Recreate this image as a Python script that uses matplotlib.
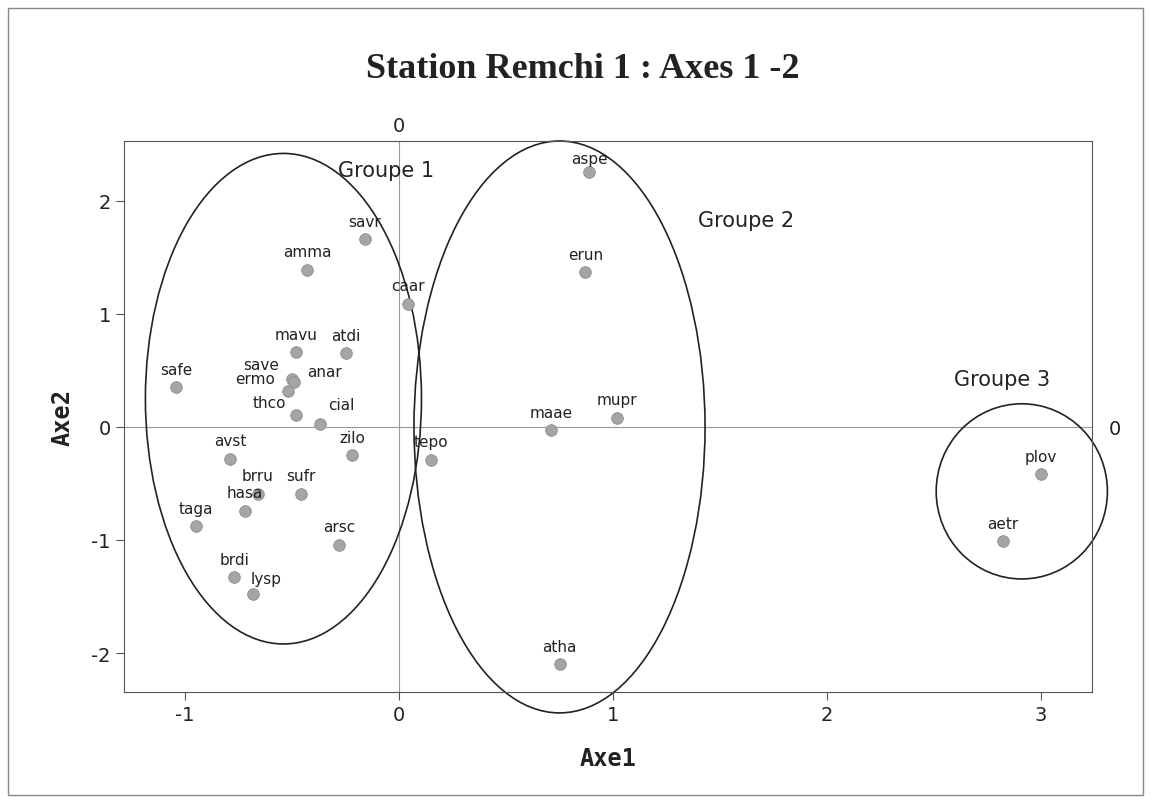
import numpy as np
import matplotlib
matplotlib.use("Agg")
from matplotlib import pyplot as plt
from matplotlib.patches import Ellipse, Rectangle

plt.rcParams["axes.unicode_minus"] = False

# species codes and their coordinates on axes 1 and 2
species = ["safe", "amma", "savr", "caar", "mavu", "atdi", "save", "anar",
           "ermo", "thco", "cial", "zilo", "avst", "brru", "sufr", "hasa",
           "taga", "arsc", "brdi", "lysp", "tepo",
           "aspe", "erun", "maae", "mupr", "atha",
           "plov", "aetr"]
axe1 = [-1.04, -0.43, -0.16, 0.04, -0.48, -0.25, -0.50, -0.49,
        -0.52, -0.48, -0.37, -0.22, -0.79, -0.66, -0.46, -0.72,
        -0.95, -0.28, -0.77, -0.68, 0.15,
        0.89, 0.87, 0.71, 1.02, 0.75,
        3.00, 2.82]
axe2 = [0.35, 1.39, 1.66, 1.09, 0.66, 0.65, 0.42, 0.40,
        0.32, 0.11, 0.03, -0.25, -0.28, -0.59, -0.59, -0.74,
        -0.88, -1.04, -1.33, -1.48, -0.29,
        2.26, 1.37, -0.03, 0.08, -2.10,
        -0.42, -1.01]

# groups: name, centre (axe1, axe2), width, height
groups = ["Groupe 1", "Groupe 2", "Groupe 3"]
group_centre = [(-0.54, 0.25), (0.75, 0.0), (2.91, -0.57)]
group_size = [(1.29, 4.34), (1.36, 5.06), (0.80, 1.55)]
group_label_pos = [(-0.06, 2.27), (1.62, 1.83), (2.82, 0.42)]

# label offsets (pixels) where the label is not just above the dot
label_offset = {"save": (-31, 15), "ermo": (-33, 12), "anar": (30, 10),
                "thco": (-27, 12), "cial": (21, 19), "lysp": (13, 16),
                "aspe": (0, 13)}

fig = plt.figure(figsize=(11.51, 8.04), dpi=100)
ax = fig.add_axes([124 / 1151, 1 - 693 / 804, 968 / 1151, 551 / 804])

# outer frame round the figure
fig.patches.append(Rectangle((8 / 1151, 8 / 804), 1135 / 1151, 787 / 804,
                             transform=fig.transFigure, fill=False,
                             edgecolor="#888888", linewidth=1.0))

ax.axvline(0, color="#999999", linewidth=0.8, zorder=1)
ax.axhline(0, color="#999999", linewidth=0.8, zorder=1)

ax.scatter(axe1, axe2, s=70, color="#a5a5a5", edgecolor="#8c8c8c",
           linewidth=0.6, zorder=3)

for name, x, y in zip(species, axe1, axe2):
    dx, dy = label_offset.get(name, (0, 18))
    ax.annotate(name, (x, y), xytext=(dx, dy), textcoords="offset pixels",
                ha="center", va="center", fontsize=11, color="#222222",
                zorder=4)

for name, (cx, cy), (w, h), (lx, ly) in zip(groups, group_centre,
                                            group_size, group_label_pos):
    ax.add_patch(Ellipse((cx, cy), w, h, fill=False, edgecolor="#222222",
                         linewidth=1.2, clip_on=False, zorder=2))
    ax.text(lx, ly, name, ha="center", va="center", fontsize=15,
            color="#222222")

ax.set_xlim(-1.285, 3.238)
ax.set_ylim(-2.345, 2.53)
ax.set_xticks([-1, 0, 1, 2, 3])
ax.set_yticks([-2, -1, 0, 1, 2])
ax.tick_params(labelsize=14, length=6, color="#555555", labelcolor="#222222")
for s in ax.spines.values():
    s.set_color("#555555")

sec_x = ax.secondary_xaxis("top")
sec_x.set_xticks([0])
sec_x.tick_params(length=0, labelsize=14, labelcolor="#222222", pad=4)
sec_x.spines["top"].set_visible(False)
sec_y = ax.secondary_yaxis("right")
sec_y.set_yticks([0])
sec_y.tick_params(length=0, labelsize=14, labelcolor="#222222", pad=12)
sec_y.spines["right"].set_visible(False)

ax.set_xlabel("Axe1", fontsize=17, fontweight="bold",
              fontfamily="DejaVu Sans Mono", labelpad=16, color="#222222")
ax.set_ylabel("Axe2", fontsize=17, fontweight="bold",
              fontfamily="DejaVu Sans Mono", labelpad=12, color="#222222")

fig.text(583 / 1151, 1 - 70 / 804, "Station Remchi 1 : Axes 1 -2",
         ha="center", va="center", fontsize=26, fontweight="bold",
         fontfamily="Liberation Serif", color="#222222")

fig.savefig("out.png", dpi=100)
